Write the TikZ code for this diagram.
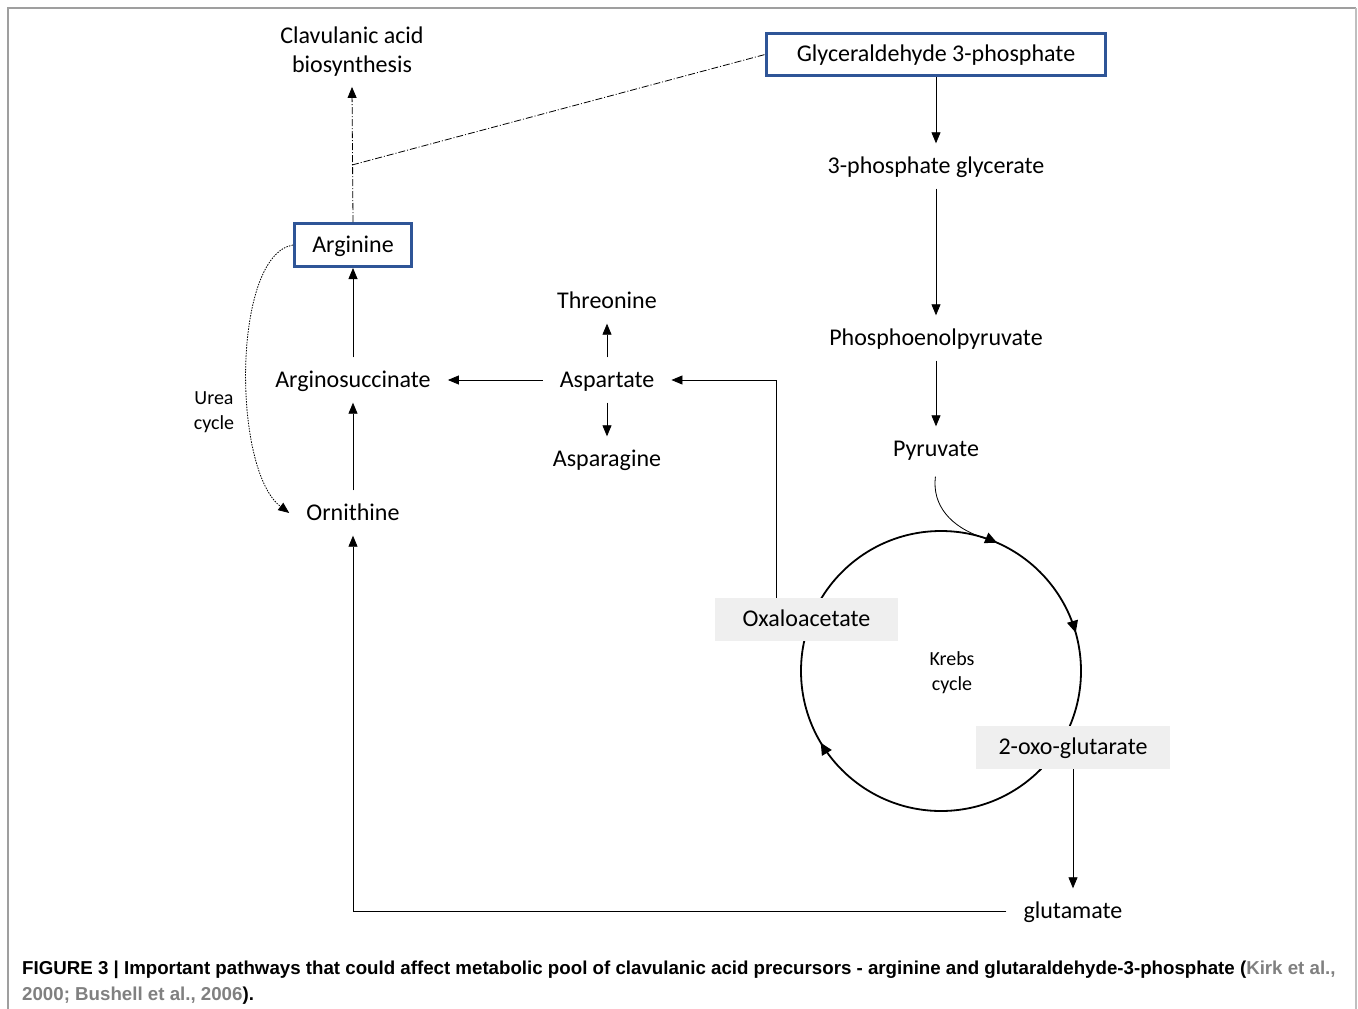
\documentclass[tikz,border=0pt]{standalone}
\usepackage{fontspec}
\setmainfont{Carlito}
\newfontfamily\capfont{Liberation Sans}
\usetikzlibrary{arrows.meta,decorations.markings}
\definecolor{boxblue}{RGB}{47,85,151}
\definecolor{boxgray}{RGB}{239,239,239}
\definecolor{citegray}{RGB}{128,128,128}

\begin{document}
\begin{tikzpicture}[x=1pt, y=-1pt,
  every node/.style={font=\fontsize{24}{29}\selectfont},
  met/.style={inner xsep=17pt, inner ysep=0pt, text height=18pt, text depth=4pt, minimum height=45pt},
  hit/.style={draw=boxblue, line width=3pt, inner sep=0pt, text height=18pt, text depth=4pt},
  pool/.style={fill=boxgray, inner sep=0pt, text height=18pt, text depth=4pt, minimum height=43pt},
  small/.style={font=\fontsize{20}{25}\selectfont, align=center},
  arr/.style={-{Triangle[width=9pt,length=11pt]}, line width=0.8pt},
  dashdot/.style={dash pattern=on 7pt off 2pt on 1pt off 2pt, line width=0.8pt},
  dots/.style={dash pattern=on 1.5pt off 1.2pt, line width=0.8pt},
  krebs/.style={line width=1.8pt, postaction={decorate}, decoration={markings,
    mark=at position 0.4145 with {\arrow{Triangle[width=11pt,length=12pt]}},
    mark=at position 0.8156 with {\arrow{Triangle[width=11pt,length=12pt]}},
    mark=at position 0.956 with {\arrow{Triangle[width=11pt,length=12pt]}}}},
  captext/.style={anchor=base west, inner sep=0pt, font=\capfont\bfseries\fontsize{18.7}{26}\selectfont}]

\useasboundingbox (0,0) rectangle (1358,1009);

% frame
\draw[gray!75, line width=1.5pt] (8,1009) |- (1356,8);
\draw[gray!50, line width=1.5pt] (1356,8) -- (1356,1009);

% krebs cycle
\draw[krebs] (941,671) circle[radius=140];
\node[small] (kc) at (952,673) {Krebs\\cycle};

% left column
\node[align=center, inner sep=10pt] (clav) at (352,52) {Clavulanic acid\\biosynthesis};
\node[hit, minimum width=117pt, minimum height=43pt] (arg) at (353,245) {Arginine};
\node[met] (argsuc) at (353,380) {Arginosuccinate};
\node[met] (orn) at (353,513) {Ornithine};
\node[small] (urea) at (214,412) {Urea\\cycle};

% middle column
\node[met] (thr) at (607,301) {Threonine};
\node[met] (asp) at (607,380) {Aspartate};
\node[met] (asn) at (607,459) {Asparagine};

% right column
\node[hit, minimum width=339pt, minimum height=42pt] (g3p) at (936,54.5) {Glyceraldehyde 3-phosphate};
\node[met] (pg) at (936,166) {3-phosphate glycerate};
\node[met] (pep) at (936,338) {Phosphoenolpyruvate};
\node[met] (pyr) at (936,449) {Pyruvate};
\node[pool, minimum width=183pt] (oaa) at (806.5,619.5) {Oxaloacetate};
\node[pool, minimum width=194pt] (akg) at (1073,747.5) {2-oxo-glutarate};
\node[met] (glu) at (1073,911) {glutamate};

% connectors
\coordinate (jn) at (352,165);
\draw[dashdot, arr] (arg.north) -- (clav.south);
\draw[dashdot] (jn) -- (g3p.west);
\draw[arr] (argsuc) -- (arg);
\draw[arr] (orn) -- (argsuc);
\draw[arr] (asp) -- (argsuc);
\draw[arr] (asp) -- (thr);
\draw[arr] (asp) -- (asn);
\draw[dots, arr] (arg.west) .. controls (232,255) and (232,470) .. (orn.west);
\draw[arr] (g3p) -- (pg);
\draw[arr] (pg) -- (pep);
\draw[arr] (pep) -- (pyr);
\draw[line width=0.8pt, shorten <=5pt] (pyr.south) .. controls (932,505) and (950,527) .. (984,538);
\draw[arr] ([xshift=-30pt]oaa.north) |- (asp.east);
\draw[arr] (akg) -- (glu);
\draw[arr] (glu.west) -| (orn.south);

% caption
\node[captext] (cap1) at (22,974) {FIGURE 3 | Important pathways that could affect metabolic pool of clavulanic acid precursors - arginine and glutaraldehyde-3-phosphate (\textcolor{citegray}{Kirk et al.,}};
\node[captext] (cap2) at (22,1000) {\textcolor{citegray}{2000; Bushell et al., 2006}).};

\end{tikzpicture}
\end{document}
